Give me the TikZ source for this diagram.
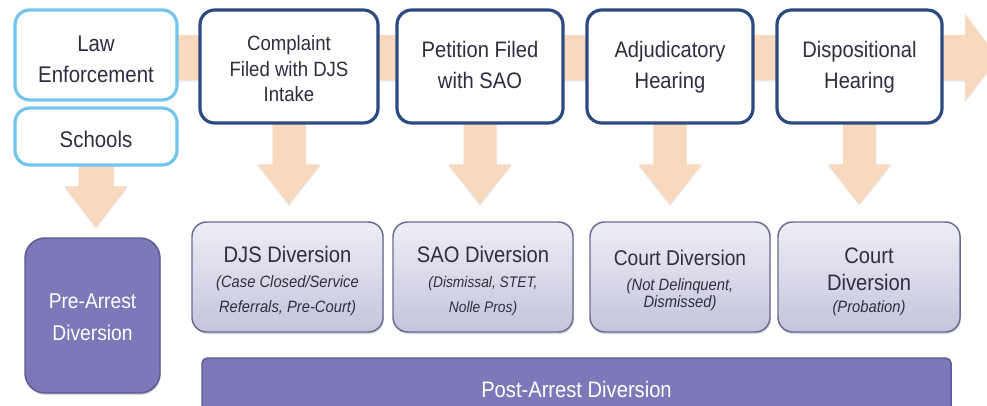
\documentclass[tikz,border=0pt]{standalone}
\usepackage{fontspec}
\setmainfont{Liberation Sans}[FakeStretch=0.9]
\usetikzlibrary{calc,backgrounds,shadows}
\definecolor{peach}{HTML}{F9D9BE}
\definecolor{navy}{HTML}{2D4A80}
\definecolor{lightblue}{HTML}{74C5EE}
\definecolor{txtcol}{HTML}{2E2E40}
\definecolor{darkfill}{HTML}{7B79B7}
\definecolor{darkborder}{HTML}{5C5A92}
\definecolor{divtop}{HTML}{EEEEF6}
\definecolor{divbot}{HTML}{C4C4DC}
\definecolor{divborder}{HTML}{6A6A94}
\tikzset{
  topbox/.style={draw=navy, line width=2.4pt, fill=white, rounded corners=11pt, inner sep=0pt},
  srcbox/.style={topbox, draw=lightblue},
  divbox/.style={draw=divborder, line width=1.1pt, rounded corners=11pt, inner sep=0pt,
     top color=divtop, bottom color=divbot,
     drop shadow={shadow xshift=0.6pt, shadow yshift=-1.5pt, opacity=0.3}},
  darkbox/.style={draw=darkborder, line width=1.1pt, fill=darkfill, rounded corners=15pt, inner sep=0pt,
     drop shadow={shadow xshift=0.6pt, shadow yshift=-1.5pt, opacity=0.3}},
  postbox/.style={draw=darkborder, line width=1.1pt, fill=darkfill, rounded corners=4pt, inner sep=0pt},
  lbl/.style={anchor=base, inner sep=0pt, text=txtcol, font=\fontsize{16.8}{20}\selectfont},
  sublbl/.style={lbl, font=\fontsize{12.3}{15}\selectfont\itshape},
  wlbl/.style={lbl, text=white},
  blockfill/.style={fill=peach, drop shadow={shadow xshift=0pt, shadow yshift=-1.2pt, opacity=0.18}}
}
% #1 source node, #2 target node, #3 shaft half width, #4 gap above target, #5 head length
\newcommand\downblock[5]{%
  \fill[blockfill] let \p1=(#1.south), \p2=(#2.north) in
    (\x1-#3,\y1+4pt) -- (\x1-#3,\y2+#4+#5) -- (\x1-23.625pt,\y2+#4+#5) -- (\x1,\y2+#4)
    -- (\x1+23.625pt,\y2+#4+#5) -- (\x1+#3,\y2+#4+#5) -- (\x1+#3,\y1+4pt) -- cycle;}
\begin{document}
\begin{tikzpicture}[x=0.75pt,y=-0.75pt]
\useasboundingbox (0,0) rectangle (987,406);
\clip (0,0) rectangle (987,406);

% top row
\node[srcbox, minimum width=121.5pt, minimum height=67.5pt] (law) at (96,55) {};
\node[srcbox, minimum width=121.5pt, minimum height=42.75pt] (schools) at (96,136.5) {};
\node[topbox, minimum width=133.5pt, minimum height=84.75pt] (complaint) at (289,66.5) {};
\node[topbox, minimum width=124.5pt, minimum height=84.75pt] (petition) at (480,66.5) {};
\node[topbox, minimum width=124.5pt, minimum height=84.75pt] (adjud) at (670,66.5) {};
\node[topbox, minimum width=123.75pt, minimum height=84.75pt] (dispo) at (859.5,66.5) {};

\node[lbl, font=\fontsize{17}{20}\selectfont] (lawA) at (96,52) {Law};
\node[lbl, font=\fontsize{17}{20}\selectfont] (lawB) at (96,83) {Enforcement};
\node[lbl, font=\fontsize{17}{20}\selectfont] (schoolsA) at (96,147) {Schools};
\node[lbl, font=\fontsize{15.5}{18}\selectfont] (compA) at (289,51) {Complaint};
\node[lbl, font=\fontsize{15.5}{18}\selectfont] (compB) at (289,76.5) {Filed with DJS};
\node[lbl, font=\fontsize{15.5}{18}\selectfont] (compC) at (289,102) {Intake};
\node[lbl] (petA) at (480,58) {Petition Filed};
\node[lbl] (petB) at (480,89) {with SAO};
\node[lbl] (adjA) at (670,58) {Adjudicatory};
\node[lbl] (adjB) at (670,89) {Hearing};
\node[lbl] (dispA) at (859.5,58) {Dispositional};
\node[lbl] (dispB) at (859.5,89) {Hearing};

% bottom row
\node[darkbox, minimum width=101.25pt, minimum height=116.25pt] (pre) at (92.5,315.5) {};
\node[divbox, minimum width=143.25pt, minimum height=82.5pt] (djs) at (287.5,277) {};
\node[divbox, minimum width=135pt, minimum height=82.5pt] (sao) at (483,277) {};
\node[divbox, minimum width=135pt, minimum height=82.5pt] (court) at (680,277) {};
\node[divbox, minimum width=136.5pt, minimum height=82.5pt] (prob) at (869,277) {};
\node[postbox, minimum width=561.75pt, minimum height=48pt] (post) at (576.5,390) {};

\node[wlbl, font=\fontsize{16}{20}\selectfont] (preA) at (92.5,308) {Pre-Arrest};
\node[wlbl, font=\fontsize{16}{20}\selectfont] (preB) at (92.5,340) {Diversion};
\node[lbl] (djsA) at (287.5,262) {DJS Diversion};
\node[sublbl] (djsB) at (287.5,287) {(Case Closed/Service};
\node[sublbl] (djsC) at (287.5,312) {Referrals, Pre-Court)};
\node[lbl] (saoA) at (483,262) {SAO Diversion};
\node[sublbl, font=\fontsize{11.5}{14}\selectfont\itshape] (saoB) at (483,287) {(Dismissal, STET,};
\node[sublbl, font=\fontsize{11.5}{14}\selectfont\itshape] (saoC) at (483,312) {Nolle Pros)};
\node[lbl, font=\fontsize{16}{20}\selectfont] (courtA) at (680,265) {Court Diversion};
\node[sublbl] (courtB) at (680,290) {(Not Delinquent,};
\node[sublbl] (courtC) at (680,307) {Dismissed)};
\node[lbl] (probA) at (869,263) {Court};
\node[lbl] (probB) at (869,290) {Diversion};
\node[sublbl] (probC) at (869,312) {(Probation)};
\node[wlbl] (postA) at (576.5,397) {Post-Arrest Diversion};

\coordinate (flowtip) at (998,57.5);

\begin{scope}[on background layer]
  \fill[white] (0,0) rectangle (987,406);
  \fill[blockfill] let \p1=(law.center), \p2=(flowtip) in
    (\x1,\y2+16.875pt) -- (\x2-24.75pt,\y2+16.875pt) -- (\x2-24.75pt,\y2+32.625pt) -- (\p2)
    -- (\x2-24.75pt,\y2-32.625pt) -- (\x2-24.75pt,\y2-16.875pt) -- (\x1,\y2-16.875pt) -- cycle;
  \downblock{schools}{pre}{13.125pt}{7.5pt}{30.75pt}
  \downblock{complaint}{djs}{12.375pt}{12.75pt}{30pt}
  \downblock{petition}{sao}{12.375pt}{12.75pt}{30pt}
  \downblock{adjud}{court}{12.375pt}{12.75pt}{30pt}
  \downblock{dispo}{prob}{12.375pt}{12.75pt}{30pt}
\end{scope}
\end{tikzpicture}
\end{document}
